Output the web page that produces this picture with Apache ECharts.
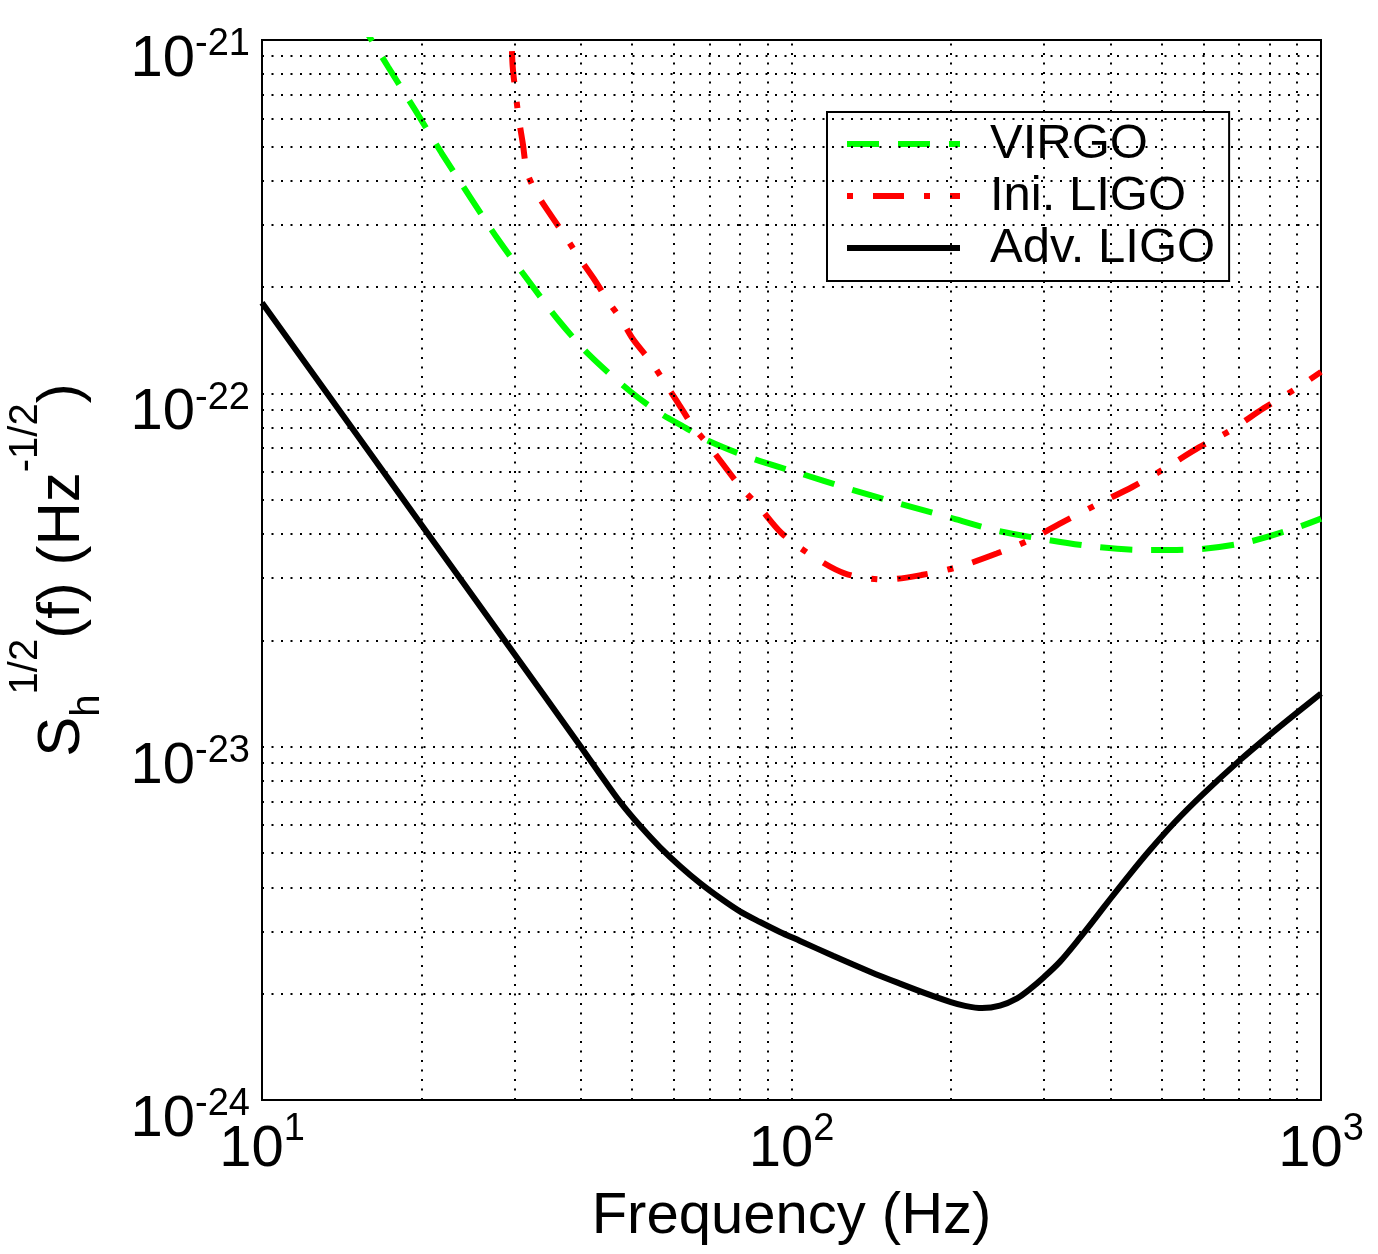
<!DOCTYPE html>
<html>
<head>
<meta charset="utf-8">
<script src="https://cdn.jsdelivr.net/npm/echarts@6/dist/echarts.min.js"></script>
<style>
  html, body { margin: 0; padding: 0; background: #ffffff; }
  #chart { width: 1378px; height: 1254px; }
</style>
</head>
<body>
<div id="chart"></div>
<script>
// Amplitude spectral densities of ground-based interferometers (strain / sqrt(Hz))
const advLigoFreq = [10, 20, 29, 40, 43.5, 47.4, 51.8, 56.4, 61.6, 67.2, 73.3, 79.9, 87.2, 95.1, 103.8, 119.8, 141.4, 160.3, 178.7, 200, 212.7, 229, 247.6, 266.7, 282, 300, 321.5, 350.7, 374.3, 399.5, 435.8, 475.3, 530, 598.6, 703, 801, 901, 1000];
const advLigoAsd = [1.805e-22, 4.25e-23, 1.96e-23, 1.0e-23, 8.36e-24, 6.99e-24, 5.96e-24, 5.2e-24, 4.59e-24, 4.11e-24, 3.73e-24, 3.42e-24, 3.19e-24, 2.99e-24, 2.82e-24, 2.56e-24, 2.30e-24, 2.135e-24, 2.007e-24, 1.893e-24, 1.847e-24, 1.82e-24, 1.85e-24, 1.94e-24, 2.06e-24, 2.23e-24, 2.464e-24, 2.88e-24, 3.26e-24, 3.70e-24, 4.36e-24, 5.1e-24, 6.12e-24, 7.34e-24, 9.16e-24, 1.082e-23, 1.249e-23, 1.414e-23];

const virgoFreq = [15, 16.1, 17.3, 19.46, 21.85, 24.7, 27.95, 31.8, 36.3, 41.6, 49.7, 56.5, 63, 69.1, 84.1, 103.6, 127.8, 157.8, 196, 242, 301, 374.5, 466, 583, 725, 896, 1000];
const virgoAsd = [1.185e-21, 1.0e-21, 8.4e-22, 6.34e-22, 4.78e-22, 3.60e-22, 2.72e-22, 2.09e-22, 1.61e-22, 1.28e-22, 1.01e-22, 8.78e-23, 8.0e-23, 7.38e-23, 6.55e-23, 5.94e-23, 5.38e-23, 4.9e-23, 4.48e-23, 4.10e-23, 3.86e-23, 3.68e-23, 3.60e-23, 3.62e-23, 3.79e-23, 4.16e-23, 4.42e-23];

const iniLigoFreq = [29.55, 29.62, 29.75, 30.18, 30.58, 31.08, 31.7, 33.03, 34.88, 37.52, 39.6, 42.24, 45.08, 47.78, 50.25, 54.45, 57.68, 61.12, 65.26, 69.65, 80, 86.3, 95.8, 110, 126.3, 150, 175.9, 207, 244, 283, 328, 380, 441, 508, 588, 677, 779, 896, 1000];
const iniLigoAsd = [1.1e-21, 9.79e-22, 8.4e-22, 6.91e-22, 5.94e-22, 5.1e-22, 4.21e-22, 3.68e-22, 3.24e-22, 2.76e-22, 2.435e-22, 2.12e-22, 1.82e-22, 1.61e-22, 1.42e-22, 1.22e-22, 1.07e-22, 9.37e-23, 8.04e-23, 7.14e-23, 5.45e-23, 4.83e-23, 4.02e-23, 3.45e-23, 3.09e-23, 2.97e-23, 3.06e-23, 3.23e-23, 3.52e-23, 3.86e-23, 4.35e-23, 4.87e-23, 5.44e-23, 6.14e-23, 7.03e-23, 7.88e-23, 9.07e-23, 1.03e-22, 1.15e-22];

const seriesNames = ['VIRGO', 'Ini. LIGO', 'Adv. LIGO'];

// Decade tick labels (powers of ten)
const xTickExponents = [1, 2, 3];
const yTickExponents = [-24, -23, -22, -21];

// The y axis works in units of 1e-24 so the log scale stays in a comfortable numeric range
const Y_UNIT_EXP = -24;
const Y_UNIT = 1e-24;

// Grid lines at 1..9 x each decade
const gridMultipliers = [1, 2, 3, 4, 5, 6, 7, 8, 9];
const xGridDecades = [10, 100];
const yGridDecades = [1e-24, 1e-23, 1e-22];

const FONT = "'Liberation Sans', Arial, Helvetica, sans-serif";

const zip = (xs, ys) => xs.map((x, i) => [x, +(ys[i] / Y_UNIT).toPrecision(6)]);

const gridLines = [];
xGridDecades.forEach(d => gridMultipliers.forEach(m => {
  const v = +(m * d).toPrecision(6);
  if (v > 10 && v < 1000) gridLines.push({ xAxis: v });
}));
yGridDecades.forEach(d => gridMultipliers.forEach(m => {
  const v = +(m * d / Y_UNIT).toPrecision(6);
  if (v > 1 && v < 1000) gridLines.push({ yAxis: v });
}));

const exponentLabel = (list, offset) => (value) => {
  const e = Math.round(Math.log10(value)) + offset;
  return list.indexOf(e) >= 0 ? '{b|10}{s|' + e + '}' : '';
};

const chart = echarts.init(document.getElementById('chart'), null, { renderer: 'canvas' });

chart.setOption({
  animation: false,
  backgroundColor: '#ffffff',
  textStyle: { fontFamily: FONT, color: '#000' },
  grid: {
    left: 262, top: 40, right: 57, bottom: 154,
    outerBoundsMode: 'none', containLabel: false,
    show: true, borderColor: '#000', borderWidth: 2, backgroundColor: 'transparent'
  },
  legend: {
    data: seriesNames,
    orient: 'vertical',
    left: 827, top: 112,
    padding: [6, 14, 7, 17],
    itemWidth: 113, itemHeight: 20, itemGap: 0,
    backgroundColor: '#ffffff',
    borderColor: '#000', borderWidth: 2, borderRadius: 0,
    selectedMode: false,
    itemStyle: { opacity: 0 },
    lineStyle: { width: 6 },
    textStyle: { fontFamily: FONT, fontSize: 49, lineHeight: 52, color: '#000', padding: [0, 0, 0, 25] }
  },
  xAxis: {
    type: 'log', logBase: 10, min: 10, max: 1000,
    name: 'Frequency (Hz)', nameLocation: 'middle', nameGap: 88,
    nameTextStyle: { fontFamily: FONT, fontSize: 58, lineHeight: 58, color: '#000' },
    axisLine: { show: true, lineStyle: { color: '#000', width: 2 } },
    axisTick: { show: false },
    splitLine: { show: false },
    axisLabel: {
      margin: 11,
      formatter: exponentLabel(xTickExponents, 0),
      rich: {
        b: { fontFamily: FONT, fontSize: 58, lineHeight: 58, color: '#000', padding: [20, 0, 0, 0] },
        s: { fontFamily: FONT, fontSize: 38, lineHeight: 38, color: '#000', verticalAlign: 'top' }
      }
    }
  },
  yAxis: {
    type: 'log', logBase: 10, min: 1, max: 1000,
    name: '{m|S}{sub|h}{sup|1/2}{m|(f) (Hz}{sup|-1/2}{m|)}',
    nameLocation: 'middle', nameGap: 136,
    nameTextStyle: {
      fontFamily: FONT, color: '#000',
      rich: {
        m: { fontFamily: FONT, fontSize: 60, lineHeight: 114, color: '#000' },
        sup: { fontFamily: FONT, fontSize: 40, lineHeight: 40, color: '#000', verticalAlign: 'top' },
        sub: { fontFamily: FONT, fontSize: 40, lineHeight: 40, color: '#000', verticalAlign: 'bottom', padding: [0, 0, 12, 0] }
      }
    },
    axisLine: { show: true, lineStyle: { color: '#000', width: 2 } },
    axisTick: { show: false },
    splitLine: { show: false },
    axisLabel: {
      margin: 12,
      formatter: exponentLabel(yTickExponents, Y_UNIT_EXP),
      rich: {
        b: { fontFamily: FONT, fontSize: 58, lineHeight: 58, color: '#000', padding: [40, 0, 0, 0] },
        s: { fontFamily: FONT, fontSize: 38, lineHeight: 38, color: '#000', verticalAlign: 'top', padding: [15, 0, 0, 0] }
      }
    }
  },
  series: [
    {
      name: 'grid', type: 'line', data: [], z: 1, silent: true,
      markLine: {
        silent: true, symbol: ['none', 'none'], animation: false,
        label: { show: false },
        emphasis: { disabled: true },
        lineStyle: { color: '#000', width: 2, type: [2, 7.5], opacity: 1 },
        data: gridLines
      }
    },
    {
      name: 'VIRGO', type: 'line', z: 3, symbol: 'none', smooth: 0.3,
      data: zip(virgoFreq, virgoAsd),
      lineStyle: { color: '#00ff00', width: 6, type: [32, 19], cap: 'butt' },
      itemStyle: { color: '#00ff00' }
    },
    {
      name: 'Ini. LIGO', type: 'line', z: 3, symbol: 'none', smooth: 0.3,
      data: zip(iniLigoFreq, iniLigoAsd),
      lineStyle: { color: '#ff0000', width: 6, type: [6, 20, 31, 20], cap: 'butt' },
      itemStyle: { color: '#ff0000' }
    },
    {
      name: 'Adv. LIGO', type: 'line', z: 3, symbol: 'none', smooth: 0.3,
      data: zip(advLigoFreq, advLigoAsd),
      lineStyle: { color: '#000000', width: 6, type: 'solid' },
      itemStyle: { color: '#000000' }
    }
  ]
});
</script>
</body>
</html>
